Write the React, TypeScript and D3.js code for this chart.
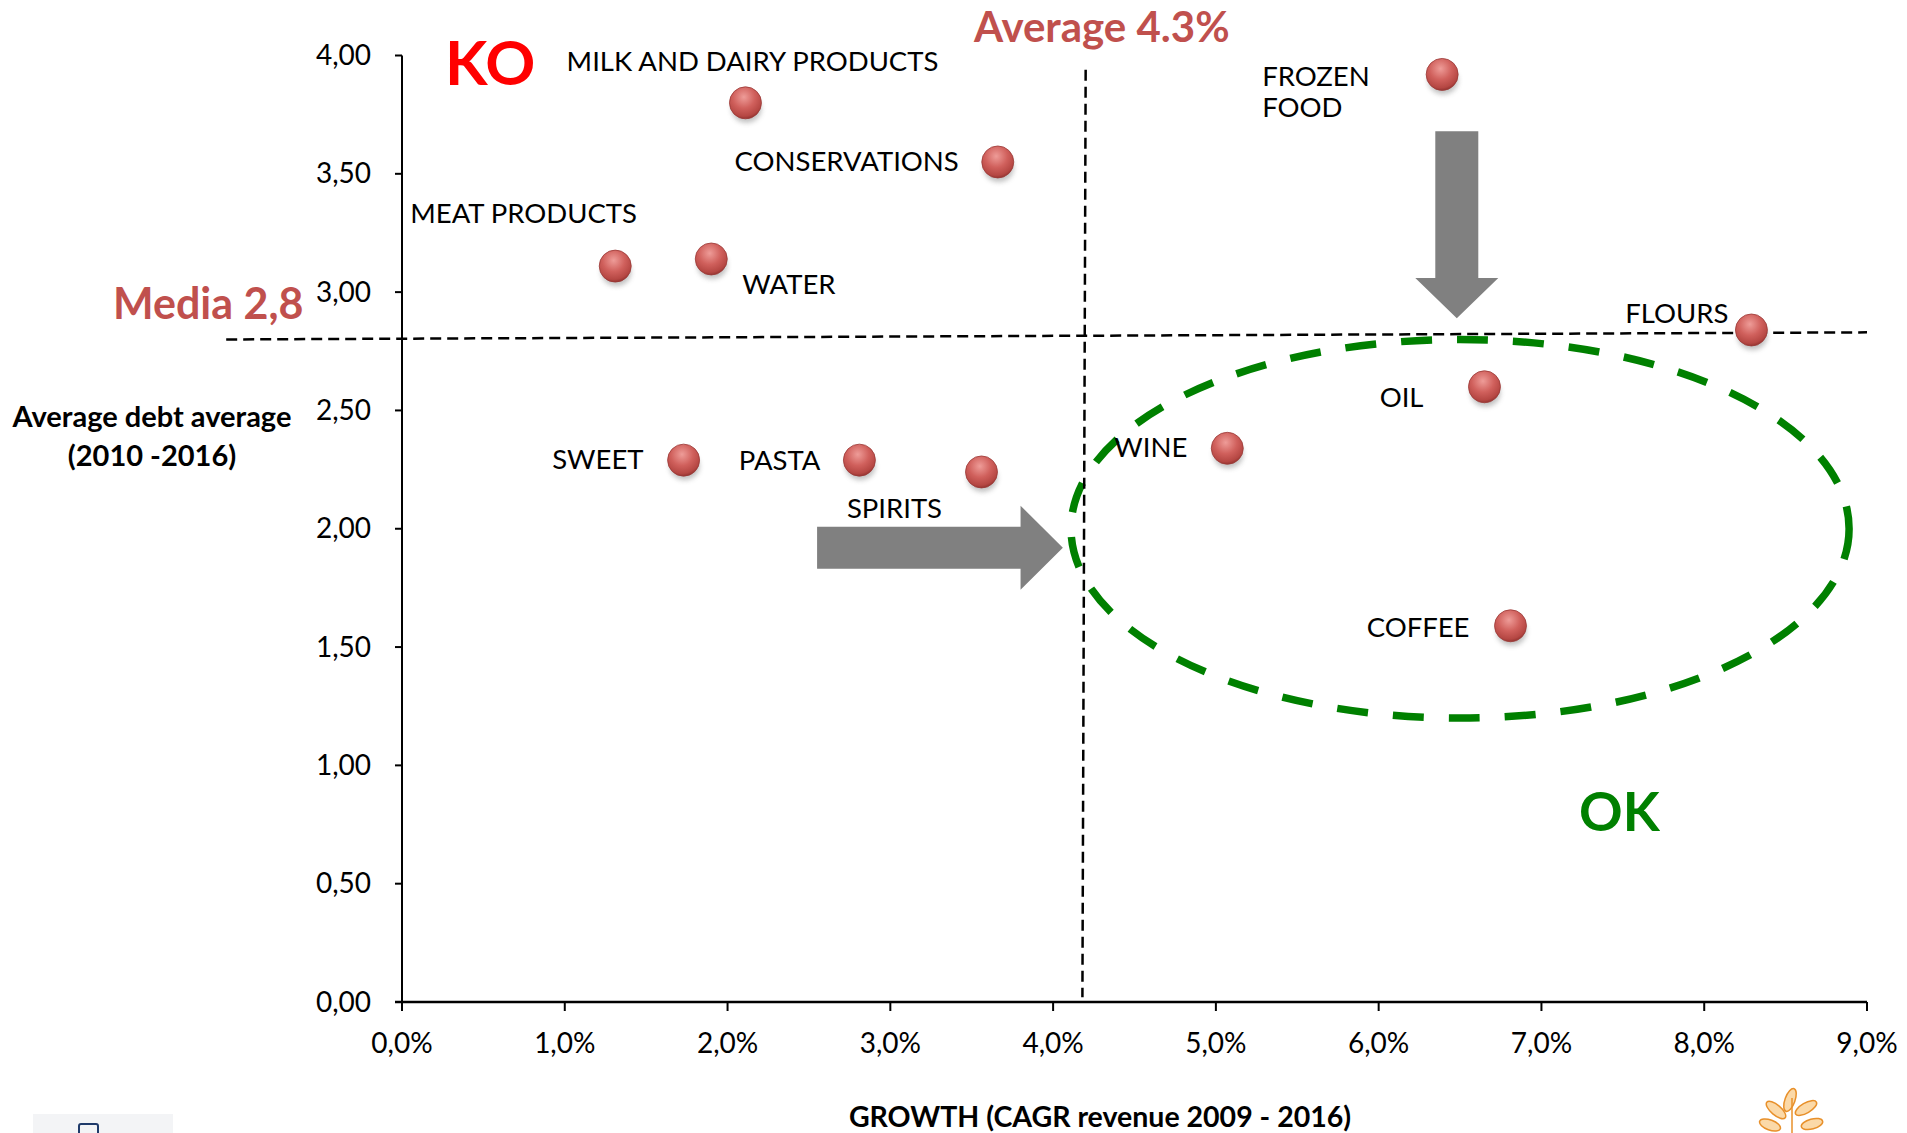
import React from "react";
import * as d3 from "d3";

// ---------- data ----------
const categories = [
  "MILK AND DAIRY PRODUCTS",
  "CONSERVATIONS",
  "MEAT PRODUCTS",
  "WATER",
  "SWEET",
  "PASTA",
  "SPIRITS",
  "FROZEN FOOD",
  "FLOURS",
  "OIL",
  "WINE",
  "COFFEE",
];
const growthPct = [2.11, 3.66, 1.31, 1.9, 1.73, 2.81, 3.56, 6.39, 8.29, 6.65, 5.07, 6.81];
const debtAvg = [3.8, 3.55, 3.11, 3.14, 2.29, 2.29, 2.24, 3.92, 2.84, 2.6, 2.34, 1.59];

const xTickValues = [0, 1, 2, 3, 4, 5, 6, 7, 8, 9];
const xTickLabels = ["0,0%", "1,0%", "2,0%", "3,0%", "4,0%", "5,0%", "6,0%", "7,0%", "8,0%", "9,0%"];
const yTickValues = [0, 0.5, 1, 1.5, 2, 2.5, 3, 3.5, 4];
const yTickLabels = ["0,00", "0,50", "1,00", "1,50", "2,00", "2,50", "3,00", "3,50", "4,00"];

const xTitle = "GROWTH (CAGR revenue 2009 - 2016)";
const yTitleLines = ["Average debt average", "(2010 -2016)"];

// reference lines (data units, slightly tilted as drawn in the original)
const avgGrowthLine = [
  [4.2, 3.94],
  [4.18, 0.02],
];
const avgDebtLine = [
  [-1.08, 2.8],
  [9.0, 2.83],
];
const avgGrowthText = "Average 4.3%";
const avgDebtText = "Media 2,8";

// OK zone ellipse (data units)
const okCenter = [6.5, 2.0];
const okRadii = [2.39, 0.8];

// arrows (data units)
const rightArrow = { tail: 2.55, neck: 3.8, tip: 4.06, level: 1.92 };
const downArrow = { top: 3.68, neck: 3.06, tip: 2.89, at: 6.48 };

// ---------- layout ----------
const W = 1907;
const H = 1133;
const FONT = "Lato, 'Open Sans', sans-serif";

type Lbl = { lines: string[]; dx: number; dy: number; anchor: "start" | "middle" | "end" };
const labelLayout: Lbl[] = [
  { lines: ["MILK AND DAIRY PRODUCTS"], dx: 7, dy: -32, anchor: "middle" },
  { lines: ["CONSERVATIONS"], dx: -39, dy: 9, anchor: "end" },
  { lines: ["MEAT PRODUCTS"], dx: -205, dy: -43, anchor: "start" },
  { lines: ["WATER"], dx: 31, dy: 35, anchor: "start" },
  { lines: ["SWEET"], dx: -40, dy: 9, anchor: "end" },
  { lines: ["PASTA"], dx: -39, dy: 10, anchor: "end" },
  { lines: ["SPIRITS"], dx: -87, dy: 46, anchor: "middle" },
  { lines: ["FROZEN", "FOOD"], dx: -180, dy: 12, anchor: "start" },
  { lines: ["FLOURS"], dx: -23, dy: -7, anchor: "end" },
  { lines: ["OIL"], dx: -61, dy: 20, anchor: "end" },
  { lines: ["WINE"], dx: -40, dy: 9, anchor: "end" },
  { lines: ["COFFEE"], dx: -41, dy: 11, anchor: "end" },
];

export default function App() {
  const x = d3.scaleLinear().domain([0, 9]).range([402, 1867]);
  const y = d3.scaleLinear().domain([0, 4]).range([1002, 55.5]);

  const points = categories.map((c, i) => ({ c, gx: x(growthPct[i]), gy: y(debtAvg[i]), lbl: labelLayout[i] }));

  const yc = y(rightArrow.level);
  const rArrow = [
    [x(rightArrow.tail), yc - 21],
    [x(rightArrow.neck), yc - 21],
    [x(rightArrow.neck), yc - 42],
    [x(rightArrow.tip), yc],
    [x(rightArrow.neck), yc + 42],
    [x(rightArrow.neck), yc + 21],
    [x(rightArrow.tail), yc + 21],
  ];
  const xc = x(downArrow.at);
  const dArrow = [
    [xc - 21.5, y(downArrow.top)],
    [xc + 21.5, y(downArrow.top)],
    [xc + 21.5, y(downArrow.neck)],
    [xc + 41.5, y(downArrow.neck)],
    [xc, y(downArrow.tip)],
    [xc - 41.5, y(downArrow.neck)],
    [xc - 21.5, y(downArrow.neck)],
  ];
  const poly = (pts: number[][]) => pts.map((p) => p.join(",")).join(" ");

  const ecx = x(okCenter[0]);
  const ecy = y(okCenter[1]);
  const erx = x(okCenter[0] + okRadii[0]) - ecx;
  const ery = ecy - y(okCenter[1] + okRadii[1]);

  return (
    <svg
      width={W}
      height={H}
      style={{ position: "absolute", left: 0, top: 0, background: "#fff" }}
      fontFamily={FONT}
    >
      <defs>
        <radialGradient id="ball" cx="0.45" cy="0.32" r="0.7">
          <stop offset="0" stopColor="#EE9C98" />
          <stop offset="0.5" stopColor="#D0605C" />
          <stop offset="0.85" stopColor="#B54743" />
          <stop offset="1" stopColor="#8E302D" />
        </radialGradient>
        <filter id="blur" x="-50%" y="-50%" width="200%" height="200%">
          <feGaussianBlur stdDeviation="2.5" />
        </filter>
      </defs>
      <rect width={W} height={H} fill="#fff" />

      {/* axes */}
      <line x1={x(0)} x2={x(0)} y1={y(4)} y2={y(0)} stroke="#000" strokeWidth={2} />
      <line x1={x(0) - 7} x2={x(9)} y1={y(0)} y2={y(0)} stroke="#000" strokeWidth={2.5} />
      {yTickValues.map((v, i) => (
        <g key={"yt" + i}>
          <line x1={x(0) - 7} x2={x(0)} y1={y(v)} y2={y(v)} stroke="#000" strokeWidth={2} />
          <text x={371} y={y(v) + 9.5} textAnchor="end" fontSize={28} fill="#000">
            {yTickLabels[i]}
          </text>
        </g>
      ))}
      {xTickValues.map((v, i) => (
        <g key={"xt" + i}>
          <line x1={x(v)} x2={x(v)} y1={y(0)} y2={y(0) + 9} stroke="#000" strokeWidth={2} />
          <text x={x(v)} y={1053} textAnchor="middle" fontSize={28} fill="#000">
            {xTickLabels[i]}
          </text>
        </g>
      ))}

      {/* axis titles */}
      <text x={1100} y={1127} textAnchor="middle" fontSize={28.5} fontWeight="bold" fill="#000">
        {xTitle}
      </text>
      {yTitleLines.map((t, i) => (
        <text key={"yl" + i} x={152} y={427 + i * 39} textAnchor="middle" fontSize={29} fontWeight="bold" fill="#000">
          {t}
        </text>
      ))}

      {/* OK ellipse */}
      <ellipse
        cx={ecx}
        cy={ecy}
        rx={erx}
        ry={ery}
        fill="none"
        stroke="#008000"
        strokeWidth={7.5}
        strokeDasharray="31 25"
      />

      {/* reference lines */}
      <line
        x1={x(avgDebtLine[0][0])}
        y1={y(avgDebtLine[0][1])}
        x2={x(avgDebtLine[1][0])}
        y2={y(avgDebtLine[1][1])}
        stroke="#000"
        strokeWidth={2.5}
        strokeDasharray="11 6"
      />
      <line
        x1={x(avgGrowthLine[0][0])}
        y1={y(avgGrowthLine[0][1])}
        x2={x(avgGrowthLine[1][0])}
        y2={y(avgGrowthLine[1][1])}
        stroke="#000"
        strokeWidth={2.5}
        strokeDasharray="11 6"
      />

      {/* arrows */}
      <polygon points={poly(rArrow)} fill="#808080" />
      <polygon points={poly(dArrow)} fill="#808080" />

      {/* annotations */}
      <text x={974} y={42} fontSize={42} fontWeight="bold" fill="#C0504D">
        {avgGrowthText}
      </text>
      <text x={113} y={319} fontSize={43} fontWeight="bold" fill="#C0504D">
        {avgDebtText}
      </text>
      <text x={445} y={85} fontSize={62} fontWeight="bold" fill="#FF0000">
        KO
      </text>
      <text x={1579} y={831} fontSize={54} fontWeight="bold" fill="#008000">
        OK
      </text>

      {/* points */}
      {points.map((p, i) => (
        <g key={"p" + i}>
          <ellipse cx={p.gx + 1} cy={p.gy + 6} rx={15} ry={14} fill="#777" opacity={0.45} filter="url(#blur)" />
          <circle cx={p.gx} cy={p.gy} r={16} fill="url(#ball)" stroke="#9A3A37" strokeWidth={0.8} />
        </g>
      ))}
      {points.map((p, i) =>
        p.lbl.lines.map((ln, j) => (
          <text
            key={"l" + i + "-" + j}
            x={p.gx + p.lbl.dx}
            y={p.gy + p.lbl.dy + j * 31}
            textAnchor={p.lbl.anchor}
            fontSize={27.5}
            fill="#000"
          >
            {ln}
          </text>
        ))
      )}

      {/* footer decorations */}
      <rect x={33} y={1114} width={140} height={19} fill="#F3F4F6" />
      <rect x={79} y={1124} width={19} height={12} rx={2} fill="none" stroke="#1F3A6A" strokeWidth={2} />
      <g stroke="#E8902A" fill="#FBD9A8" strokeWidth={1.5}>
        <ellipse cx={1790} cy={1100} rx={5} ry={12} transform="rotate(20 1790 1100)" />
        <ellipse cx={1776} cy={1110} rx={5} ry={12} transform="rotate(-50 1776 1110)" />
        <ellipse cx={1806} cy={1108} rx={5} ry={12} transform="rotate(60 1806 1108)" />
        <ellipse cx={1770} cy={1125} rx={5} ry={11} transform="rotate(-70 1770 1125)" />
        <ellipse cx={1812} cy={1124} rx={5} ry={11} transform="rotate(75 1812 1124)" />
        <line x1={1792} y1={1133} x2={1792} y2={1098} />
      </g>
    </svg>
  );
}
